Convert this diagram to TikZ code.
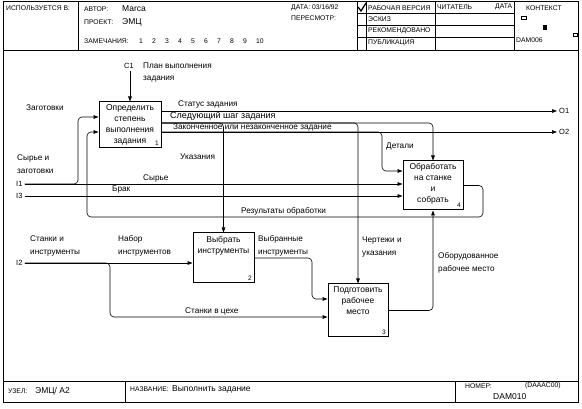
\documentclass[tikz,border=0pt]{standalone}
\usepackage{fontspec}
\setmainfont{Liberation Sans}
\usetikzlibrary{arrows.meta,positioning}

\begin{document}
\begin{tikzpicture}[x=1pt,y=-1pt,
    every node/.style={inner sep=0pt},
    fbox/.style={draw,line width=1pt},
    btext/.style={font=\fontsize{8.5}{11}\selectfont,align=center},
    lbl/.style={font=\fontsize{8.2}{12.5}\selectfont,align=left,anchor=west},
    hdr/.style={font=\fontsize{6.8}{7}\selectfont,anchor=west},
    big/.style={font=\fontsize{8.5}{9}\selectfont,anchor=west},
    num/.style={font=\fontsize{6.5}{7}\selectfont,anchor=south east,inner sep=2.5pt},
    port/.style={font=\fontsize{7.5}{8}\selectfont,inner sep=2pt},
    arr/.style={-{Triangle[length=5pt,width=3.6pt]},line width=.6pt,rounded corners=4pt},
    ln/.style={line width=.7pt}]
    \useasboundingbox (0,0) rectangle (582,409);
    % frame, header and footer
    \draw[line width=1pt] (3,2) rectangle (578,402);
    \draw[ln] (3,50) -- (578,50);
    \draw[ln] (3,381) -- (578,381);
    \draw[ln] (78,2) -- (78,50);
    \foreach \x in {357,366,435,514} \draw[ln] (\x,2) -- (\x,50);
    \foreach \y in {13,25,37} \draw[ln] (357,\y) -- (514,\y);
    \draw[ln] (125,381) -- (125,402);
    \draw[ln] (455,381) -- (455,402);
    \draw[line width=1.3pt] (358,7) -- (361,11) -- (366,3);
    \draw[ln] (521,16) rectangle (526,19);
    \fill (543,25) rectangle (547,30);
    \draw[ln] (573,33) rectangle (577,36);

    \node[hdr] (used) at (6,8) {ИСПОЛЬЗУЕТСЯ В:};
    \node[hdr] (author) at (84,9) {АВТОР:};
    \node[big] (authorv) at (122,9) {Marca};
    \node[hdr] (project) at (84,22) {ПРОЕКТ:};
    \node[big] (projectv) at (122,22) {ЭМЦ};
    \node[hdr] (notes) at (84,41) {ЗАМЕЧАНИЯ:};
    \foreach \n in {1,...,10}
        \node[hdr] (note\n) at (126+13*\n,41) {\n};
    \node[hdr] (date) at (291,8) {ДАТА: 03/16/92};
    \node[hdr] (rev) at (291,18) {ПЕРЕСМОТР:};
    \node[hdr] (working) at (368,8) {РАБОЧАЯ ВЕРСИЯ};
    \node[hdr] (draft) at (368,19) {ЭСКИЗ};
    \node[hdr] (recom) at (368,31) {РЕКОМЕНДОВАНО};
    \node[hdr] (publ) at (368,43) {ПУБЛИКАЦИЯ};
    \node[hdr] (reader) at (437,7) {ЧИТАТЕЛЬ};
    \node[hdr] (rdate) at (495,7) {ДАТА};
    \node[hdr] (context) at (526,8) {КОНТЕКСТ};
    \node[hdr] (ctxnum) at (516,40) {DAM006};
    \node[hdr] (node) at (8,391) {УЗЕЛ:};
    \node[big] (nodev) at (35,391) {ЭМЦ/ А2};
    \node[hdr] (title) at (130,389) {НАЗВАНИЕ:};
    \node[big] (titlev) at (172,389) {Выполнить задание};
    \node[hdr] (number) at (465,386) {НОМЕР:};
    \node[hdr] (numberc) at (525,386) {(DAAAC00)};
    \node[big] (numberv) at (493,397) {DAM010};

    % activity boxes
    \node[fbox,minimum width=62pt,minimum height=46pt] (b1) at (130,125) {};
    \node[fbox,minimum width=61pt,minimum height=50pt] (b2) at (223.5,258) {};
    \node[fbox,minimum width=60pt,minimum height=53pt] (b3) at (358,310.5) {};
    \node[fbox,minimum width=60pt,minimum height=49pt] (b4) at (433,185.5) {};
    \node[btext,below=2.5pt of b1.north] (t1) {Определить\\степень\\выполнения\\задания};
    \node[btext,below=4pt of b2.north] (t2) {Выбрать\\инструменты};
    \node[btext,below=3pt of b3.north] (t3) {Подготовить\\рабочее\\место};
    \node[btext,below=2.5pt of b4.north] (t4) {Обработать\\на станке\\и\\собрать};
    \node[num] (n1) at (b1.south east) {1};
    \node[num] (n2) at (b2.south east) {2};
    \node[num] (n3) at (b3.south east) {3};
    \node[num] (n4) at (b4.south east) {4};

    % ports
    \node[port] (c1) at (129,66) {C1};
    \node[port,anchor=west] (i1) at (14,184) {I1};
    \node[port,anchor=west] (i3) at (14,196) {I3};
    \node[port,anchor=west] (i2) at (14,263) {I2};
    \node[port,anchor=west] (o1) at (557,111) {O1};
    \node[port,anchor=west] (o2) at (557,132) {O2};
    \coordinate (yZag) at (0,117);
    \coordinate (yNext) at (0,123);
    \coordinate (yRes) at (0,132);
    \coordinate (yDet) at (0,171);
    \coordinate (yVyb) at (0,299);
    \coordinate (yCeh) at (0,317);

    % arrow labels
    \node[lbl] (plan) at (143,72.5) {План выполнения\\задания};
    \node[lbl] (zag) at (26,108) {Заготовки};
    \node[lbl] (syrzag) at (17,164) {Сырье и\\заготовки};
    \node[lbl] (status) at (178,104) {Статус задания};
    \node[lbl,font=\fontsize{9}{10}\selectfont] (next) at (170,116.5) {Следующий шаг задания};
    \node[lbl] (done) at (173,127.5) {Законченное или незаконченное задание};
    \node[lbl] (ukaz) at (180,157) {Указания};
    \node[lbl] (det) at (386,146) {Детали};
    \node[lbl] (syr) at (143,178) {Сырье};
    \node[lbl] (brak) at (112,190) {Брак};
    \node[lbl] (res) at (241,211) {Результаты обработки};
    \node[lbl] (stin) at (30,246) {Станки и\\инструменты};
    \node[lbl] (nabor) at (118,246) {Набор\\инструментов};
    \node[lbl] (vybr) at (258,246) {Выбранные\\инструменты};
    \node[lbl] (chert) at (362,247) {Чертежи и\\указания};
    \node[lbl] (ceh) at (185,311) {Станки в цехе};
    \node[lbl] (obor) at (438,263) {Оборудованное\\рабочее место};

    % connectors
    \draw[arr] (b1.north |- c1.south) -- (b1.north);
    \draw[arr] (b1.east |- o1) -- (o1);
    \draw[arr] (b1.east |- o2) -- (o2);
    \draw[arr] (b1.east |- yNext) -| (b4.north);
    \draw[arr] (b1.east |- yNext) -| (b2.north);
    \draw[arr] (b1.east |- yNext) -| (b3.north);
    \draw[arr] (b1.east |- yRes) -| (382,150) |- (b4.west |- yDet);
    \draw[arr] (i1) -- (i1 -| b4.west);
    \draw[arr] (i1) -| (78,150) |- (b1.west |- yZag);
    \draw[arr] (i3) -- (i3 -| b4.west);
    \draw[arr] (b4.east) -| (483,200) |- (87,217) |- (b1.west |- yRes);
    \draw[arr] (i2) -- (i2 -| b2.west);
    \draw[arr] (i2) -| (110,290) |- (b3.west |- yCeh);
    \draw[arr] (b2.east) -| (312,280) |- (b3.west |- yVyb);
    \draw[arr] (b3.east) -| (b4.south);
\end{tikzpicture}
\end{document}
